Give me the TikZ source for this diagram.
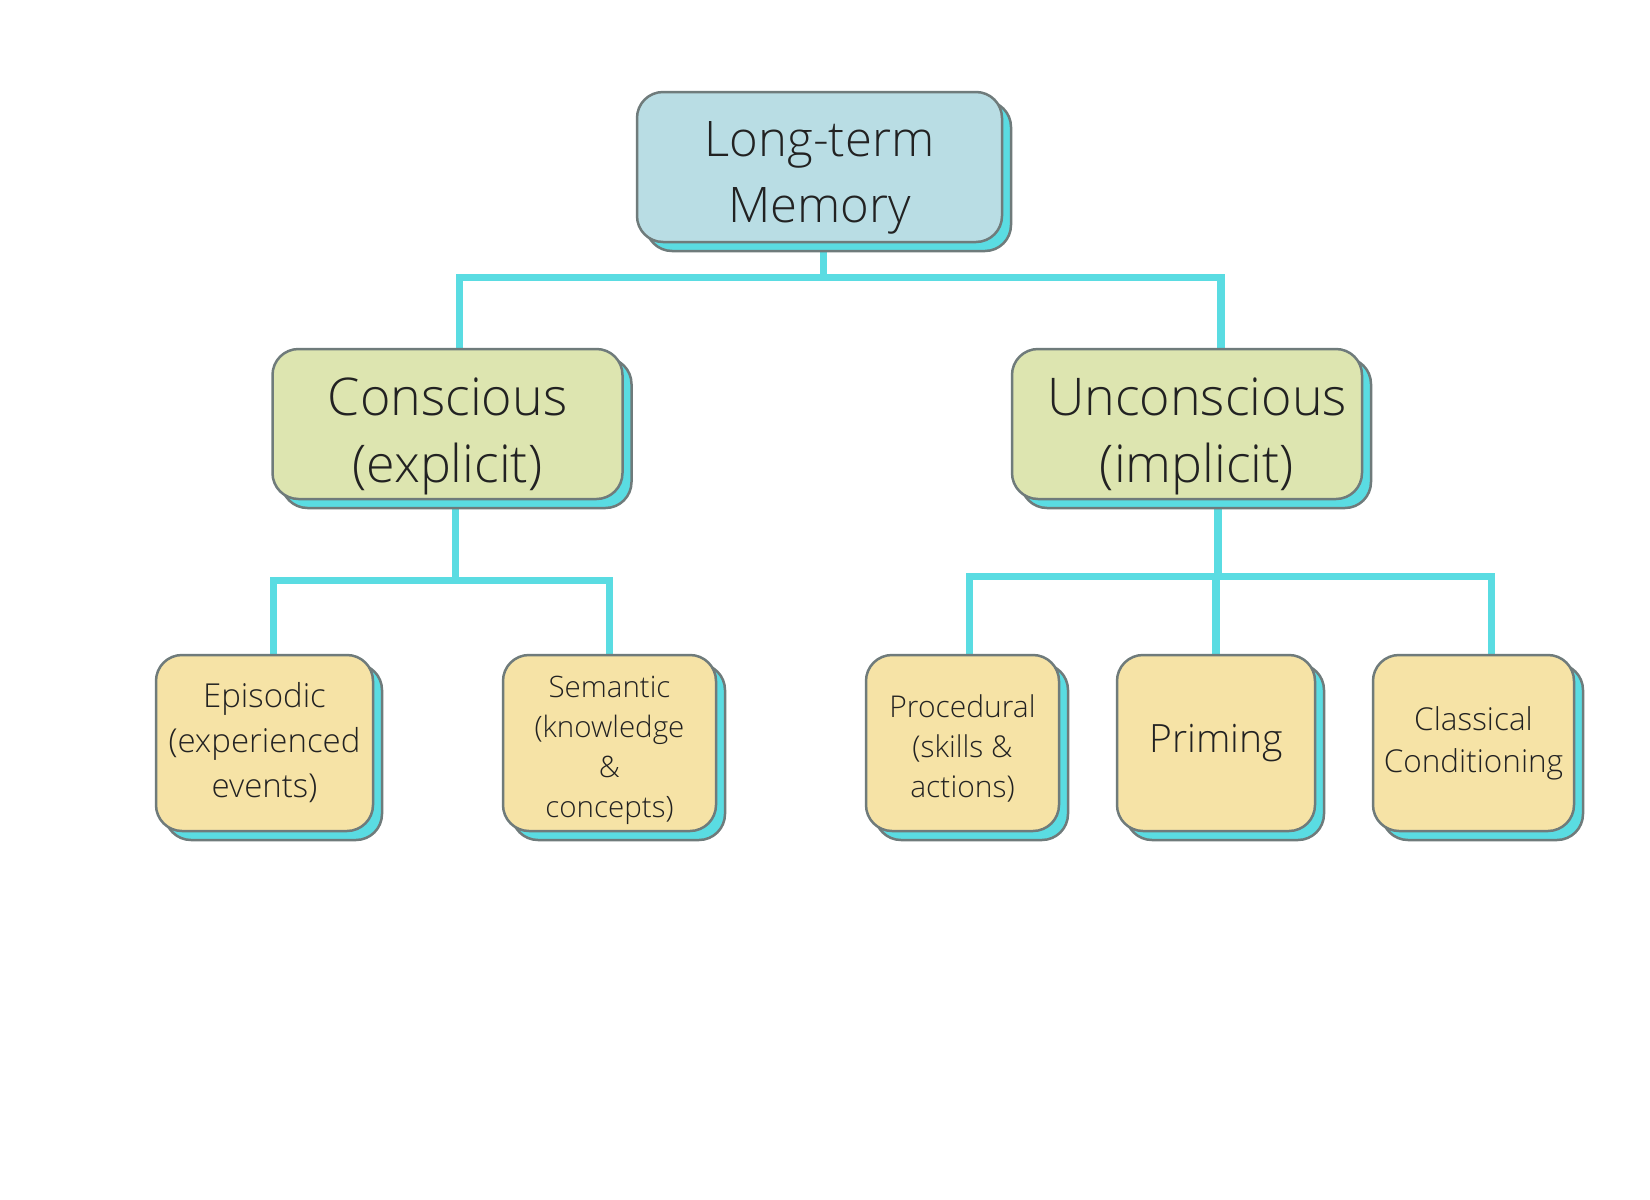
\documentclass[tikz,border=0pt]{standalone}
\usepackage{fontspec}
\setmainfont{Open Sans}[UprightFont=* Light]
\usetikzlibrary{positioning, shadows, backgrounds, calc}
\definecolor{memblue}{HTML}{B9DDE4}
\definecolor{memgreen}{HTML}{DDE5B0}
\definecolor{memyellow}{HTML}{F6E3A6}
\definecolor{memcyan}{HTML}{5ADCE2}
\definecolor{memgray}{HTML}{6F7B7B}
\definecolor{memtext}{HTML}{222222}

\begin{document}
\begin{tikzpicture}[
    x=1pt, y=-1pt,
    box/.style={rectangle, rounded corners=26pt, draw=memgray, line width=2.5pt, fill=#1,
                inner sep=0pt, align=center, text=memtext,
                copy shadow={shadow xshift=9pt, shadow yshift=-9pt, fill=memcyan, draw=memgray, line width=2.5pt}},
    topbox/.style={box=memblue, minimum width=365pt, minimum height=150pt, text height=111pt, text depth=0pt,
                   font=\fontsize{49}{66}\selectfont},
    midbox/.style={box=memgreen, minimum width=350pt, minimum height=150pt, text height=117pt, text depth=0pt,
                   font=\fontsize{52}{67}\selectfont},
    leafbox/.style={box=memyellow, minimum height=176pt},
    link/.style={draw=memcyan, line width=7.5pt, line join=miter},
]
    \useasboundingbox (0,0) rectangle (1650,1200);

    \node[topbox] (ltm) at (819.5,167) {Long-term\\Memory};
    \node[midbox] (cons)   at (447.5,424) {Conscious\\(explicit)};
    \node[midbox] (uncons) at (1187,424)  {\hspace*{20pt}Unconscious\\\hspace*{20pt}(implicit)};

    \node[leafbox, minimum width=217pt, font=\fontsize{33}{45}\selectfont] (epis) at (264.5,743) {Episodic\\(experienced\\events)};
    \node[leafbox, minimum width=213pt, text height=148pt, text depth=0pt, font=\fontsize{29.5}{40}\selectfont] (sem) at (609.5,743) {Semantic\\(knowledge\\\&\\concepts)};
    \node[leafbox, minimum width=193pt, text height=108pt, text depth=0pt, font=\fontsize{30}{40}\selectfont] (proc) at (962.5,743) {Procedural\\(skills \&\\actions)};
    \node[leafbox, minimum width=198pt, font=\fontsize{39}{44}\selectfont] (prim) at (1216,743) {Priming};
    \node[leafbox, minimum width=201pt, font=\fontsize{31.5}{42}\selectfont] (class) at (1473.5,743) {Classical\\Conditioning};

    % branches
    \begin{scope}[on background layer]
        \fill[white] (0,0) rectangle (1650,1200);
        \draw[link] ([xshift=4pt]ltm.south) -- ++(0,34) coordinate (j0);
        \draw[link] ([xshift=12pt]cons.north) |- (j0) -| ([xshift=34pt]uncons.north);

        \draw[link] ([xshift=8pt]cons.south) -- ++(0,80) coordinate (j1);
        \draw[link] ([xshift=9pt]epis.north) |- (j1) -| (sem.north);

        \draw[link] ([xshift=31pt]uncons.south) -- ++(0,76) coordinate (j2);
        \draw[link] ([xshift=7pt]proc.north) |- (j2) -| ([xshift=18pt]class.north);
        \draw[link] (prim.north) -- (prim.north |- j2);
    \end{scope}
\end{tikzpicture}
\end{document}
